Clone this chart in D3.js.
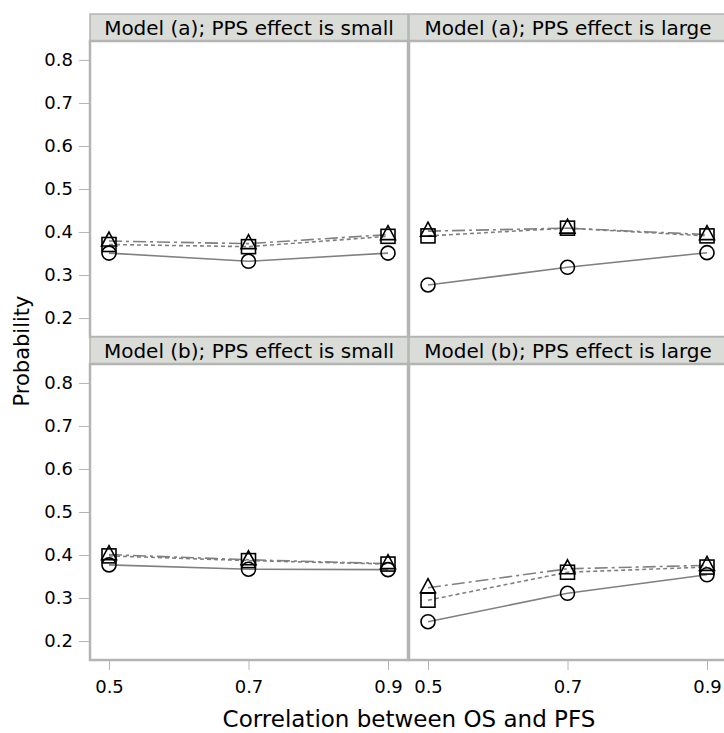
<!DOCTYPE html>
<meta charset="utf-8">
<style>
body { margin: 0; background: #fff; }
text { font-family: "DejaVu Sans", sans-serif; fill: #000; }
.frame { fill: none; stroke: #b4b4b4; stroke-width: 2.5; }
.head { fill: #dadcd7; stroke: #b4b4b4; stroke-width: 1.5; }
.tick line { stroke: #b4b4b4; }
</style>
<body>
<script src="https://d3js.org/d3.v7.min.js"></script>
<script>
// correlation between OS and PFS
var corr = [0.5, 0.7, 0.9];
var yTicks = [0.2, 0.3, 0.4, 0.5, 0.6, 0.7, 0.8];
var panelTitles = ["Model (a); PPS effect is small", "Model (a); PPS effect is large",
                   "Model (b); PPS effect is small", "Model (b); PPS effect is large"];

// one array per series per panel
var aSmallCircle = [0.351, 0.332, 0.351];
var aSmallSquare = [0.371, 0.366, 0.390];
var aSmallTriangle = [0.379, 0.373, 0.394];
var aLargeCircle = [0.277, 0.318, 0.352];
var aLargeSquare = [0.391, 0.409, 0.391];
var aLargeTriangle = [0.402, 0.409, 0.394];
var bSmallCircle = [0.377, 0.367, 0.366];
var bSmallSquare = [0.398, 0.387, 0.379];
var bSmallTriangle = [0.401, 0.389, 0.380];
var bLargeCircle = [0.245, 0.311, 0.354];
var bLargeSquare = [0.295, 0.360, 0.372];
var bLargeTriangle = [0.324, 0.368, 0.376];

var panels = [
  [aSmallCircle, aSmallSquare, aSmallTriangle],
  [aLargeCircle, aLargeSquare, aLargeTriangle],
  [bSmallCircle, bSmallSquare, bSmallTriangle],
  [bLargeCircle, bLargeSquare, bLargeTriangle]
];

var W = 724, H = 733;
var left = 90, colW = 318, headH = 27, top0 = 14, rowH = 296;

var svg = d3.select("body").append("svg")
    .attr("width", W).attr("height", H);

var x = d3.scaleLinear().domain([0.5, 0.9]).range([19, colW - 20]);
var y = d3.scaleLinear().domain([0.156, 0.844]).range([rowH, 0]);

var symbols = ["circle", "square", "triangle"];
var dashes = [null, "4,3", "13,4,3,4"];

panels.forEach(function(series, i) {
  var col = i % 2, row = Math.floor(i / 2);
  var px = left + col * (colW + 1);
  var py = top0 + row * (headH + rowH);

  // strip header
  svg.append("rect").attr("class", "head")
      .attr("x", px).attr("y", py).attr("width", colW).attr("height", headH);
  svg.append("text")
      .attr("x", px + colW / 2).attr("y", py + headH / 2 + 7)
      .attr("text-anchor", "middle").attr("font-size", "20px")
      .text(panelTitles[i]);

  var g = svg.append("g").attr("transform", "translate(" + px + "," + (py + headH) + ")");

  series.forEach(function(vals, k) {
    var line = d3.line()
        .x(function(d, j) { return x(corr[j]); })
        .y(function(d) { return y(d); });
    g.append("path").datum(vals)
        .attr("d", line)
        .attr("fill", "none")
        .attr("stroke", "#808080")
        .attr("stroke-width", 1.6)
        .attr("stroke-dasharray", dashes[k]);
  });

  series.forEach(function(vals, k) {
    vals.forEach(function(v, j) {
      var cx = x(corr[j]), cy = y(v);
      if (symbols[k] == "circle") {
        g.append("circle").attr("cx", cx).attr("cy", cy).attr("r", 7)
            .attr("fill", "none").attr("stroke", "#000").attr("stroke-width", 1.6);
      } else if (symbols[k] == "square") {
        g.append("rect").attr("x", cx - 7).attr("y", cy - 7)
            .attr("width", 14).attr("height", 14)
            .attr("fill", "none").attr("stroke", "#000").attr("stroke-width", 1.6);
      } else {
        g.append("path")
            .attr("d", "M" + cx + "," + (cy - 9) + "L" + (cx + 7.5) + "," + (cy + 5) + "L" + (cx - 7.5) + "," + (cy + 5) + "Z")
            .attr("fill", "none").attr("stroke", "#000").attr("stroke-width", 1.6);
      }
    });
  });

  g.append("rect").attr("class", "frame")
      .attr("x", 0).attr("y", 0).attr("width", colW).attr("height", rowH);

  // y axis on left column
  if (col == 0) {
    var ya = g.append("g").attr("transform", "translate(-1,0)")
        .call(d3.axisLeft(y).tickValues(yTicks).tickFormat(d3.format(".1f")).tickSize(10).tickPadding(6));
    ya.select(".domain").remove();
    ya.selectAll("text").attr("font-size", "18px");
  }
  // x axis on bottom row
  if (row == 1) {
    var xa = g.append("g").attr("transform", "translate(0," + (rowH + 1) + ")")
        .call(d3.axisBottom(x).tickValues(corr).tickFormat(d3.format(".1f")).tickSize(9).tickPadding(10));
    xa.select(".domain").remove();
    xa.selectAll("text").attr("font-size", "18px");
  }
});

svg.append("text")
    .attr("transform", "translate(29," + 351 + ") rotate(-90)")
    .attr("text-anchor", "middle").attr("font-size", "21px")
    .text("Probability");

svg.append("text")
    .attr("x", 409).attr("y", 727)
    .attr("text-anchor", "middle").attr("font-size", "23px")
    .text("Correlation between OS and PFS");
</script>
</body>
